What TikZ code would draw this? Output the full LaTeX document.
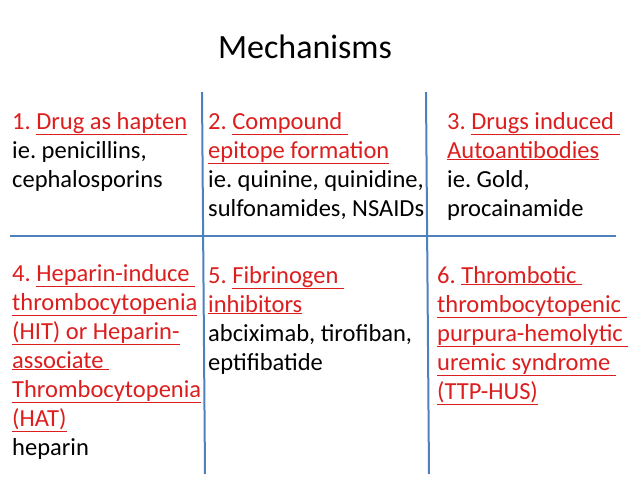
\documentclass[tikz,border=0pt]{standalone}
\usepackage{fontspec}
\setmainfont{Carlito}
\definecolor{myred}{RGB}{220,30,30}
\definecolor{myblue}{RGB}{79,129,189}
\newcommand{\ul}[1]{\underline{#1}}
\frenchspacing
\begin{document}
\begin{tikzpicture}[x=1pt,y=-1pt,
  t/.style={anchor=base west,inner sep=0pt,font=\fontsize{24.5}{28}\selectfont},
  r/.style={t,text=myred},
  gl/.style={draw=myblue,line width=2pt}]
\useasboundingbox (0,0) rectangle (638,479);
\node[anchor=base,inner sep=0pt,font=\fontsize{34}{38}\selectfont] (title) at (305,58) {Mechanisms};
\coordinate (v1a) at (202,92); \coordinate (v1b) at (205,474);
\coordinate (v2a) at (426,92); \coordinate (v2b) at (429,474);
\coordinate (ha) at (10,236); \coordinate (hb) at (616,236);
\draw[gl] (v1a) -- (v1b);
\draw[gl] (v2a) -- (v2b);
\draw[gl] (ha) -- (hb);
% cell 1
\node[r] (a1) at (12,129) {1. \ul{Drug as hapten}};
\node[t] (a2) at (12,158) {ie. penicillins,};
\node[t] (a3) at (12,187) {cephalosporins};
% cell 2
\node[r] (b1) at (208,129) {2. \ul{Compound\ }};
\node[r] (b2) at (208,158) {\ul{epitope formation}};
\node[t] (b3) at (208,187) {ie. quinine, quinidine,};
\node[t] (b4) at (208,216) {sulfonamides, NSAIDs};
% cell 3
\node[r] (c1) at (447,129) {3. \ul{Drugs induced\ }};
\node[r] (c2) at (447,158) {\ul{Autoantibodies}};
\node[t] (c3) at (447,187) {ie. Gold,};
\node[t] (c4) at (447,216) {procainamide};
% cell 4
\node[r] (d1) at (12,281) {4. \ul{Heparin-induce\ }};
\node[r] (d2) at (12,310) {\ul{thrombocytopenia}};
\node[r] (d3) at (12,339) {\ul{(HIT) or Heparin-}};
\node[r] (d4) at (12,368) {\ul{associate\ }};
\node[r] (d5) at (12,397) {\ul{Thrombocytopenia}};
\node[r] (d6) at (12,426) {\ul{(HAT)}};
\node[t] (d7) at (12,455) {heparin};
% cell 5
\node[r] (e1) at (208,283) {5. \ul{Fibrinogen\ }};
\node[r] (e2) at (208,312) {\ul{inhibitors}};
\node[t] (e3) at (208,341) {abciximab, tirofiban,};
\node[t] (e4) at (208,370) {eptifibatide};
% cell 6
\node[r] (f1) at (437,283) {6. \ul{Thrombotic\ }};
\node[r] (f2) at (437,312) {\ul{thrombocytopenic\ }};
\node[r] (f3) at (437,341) {\ul{purpura-hemolytic\ }};
\node[r] (f4) at (437,370) {\ul{uremic syndrome\ }};
\node[r] (f5) at (437,399) {\ul{(TTP-HUS)}};
\end{tikzpicture}
\end{document}
